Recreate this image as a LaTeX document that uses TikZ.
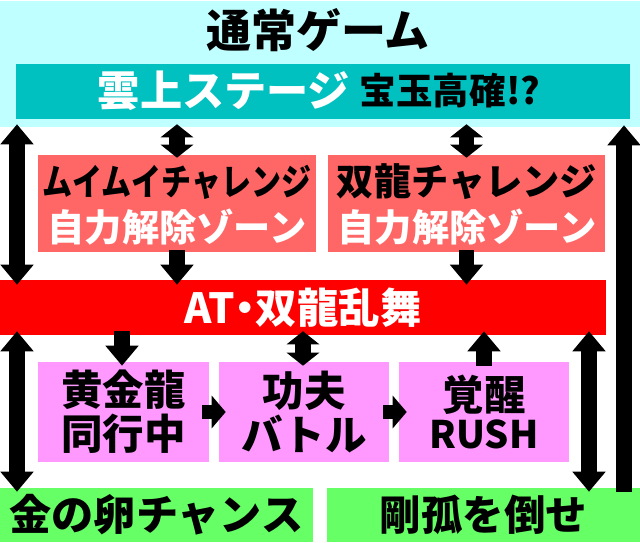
\documentclass[tikz,border=0pt]{standalone}
\usepackage{fontspec}
\usepackage{graphicx}
\usetikzlibrary{arrows.meta, positioning}
\setmainfont{Noto Sans CJK JP}[BoldFont={Noto Sans CJK JP Black}]
\definecolor{skyc}{HTML}{C0FFFF}
\definecolor{tealc}{HTML}{00C0C0}
\definecolor{salmonc}{HTML}{FF6666}
\definecolor{pinkc}{HTML}{FF99FF}
\definecolor{greenc}{HTML}{66FF66}
\newcommand{\jp}[1]{\fontsize{#1}{#1}\selectfont\bfseries}
\tikzset{
  panel/.style={inner sep=0pt, align=center},
  oneway/.style={-{Triangle[width=32*0.025cm,length=20*0.025cm]}, line width=15.5*0.025cm},
  twoway/.style={{Triangle[width=32*0.025cm,length=20*0.025cm]}-{Triangle[width=32*0.025cm,length=20*0.025cm]}, line width=15.5*0.025cm},
  stubway/.style={{Triangle[width=32*0.025cm,length=13*0.025cm]}-{Triangle[width=32*0.025cm,length=13*0.025cm]}, line width=15.5*0.025cm},
  shortway/.style={-{Triangle[width=32*0.025cm,length=14*0.025cm]}, line width=14*0.025cm},
}
\begin{document}
\begin{tikzpicture}[x=0.025cm,y=-0.025cm]
        \useasboundingbox (0,0) rectangle (640,543);

        % boxes
        \node[panel, fill=skyc, minimum width=640*0.025cm, minimum height=126*0.025cm] (normal) at (320,64) {};
        \node[panel] (title) at (318,30) {\jp{32}通常ゲーム};
        \node[panel, fill=tealc, minimum width=614*0.025cm, minimum height=55*0.025cm] (stage) at (323,91.5) {};
        \node[panel, text=white] (stagename) at (224,91) {\jp{30}雲上ステージ};
        \node[panel] (stagenote) at (450,91) {\jp{26}宝玉高確!?};

        \node[panel, fill=salmonc, minimum width=278*0.025cm, minimum height=97*0.025cm] (muimui) at (177,203.5) {};
        \node[panel] (muimuiname) at (177,182) {\scalebox{0.82}[1]{\jp{26}ムイムイチャレンジ}};
        \node[panel, text=white] (muimuizone) at (177,227) {\jp{26.5}自力解除ゾーン};
        \node[panel, fill=salmonc, minimum width=277*0.025cm, minimum height=97*0.025cm] (soryu) at (466.5,203.5) {};
        \node[panel] (soryuname) at (467,182) {\jp{26.5}双龍チャレンジ};
        \node[panel, text=white] (soryuzone) at (467,227) {\jp{26.5}自力解除ゾーン};

        \node[panel, fill=red, minimum width=606*0.025cm, minimum height=55*0.025cm, text=white] (at) at (303,307.5) {\jp{29.5}AT\hspace{-0.25em}・\hspace{-0.25em}双龍乱舞};

        \node[panel, fill=pinkc, minimum width=171*0.025cm, minimum height=100*0.025cm] (ogon) at (123.5,412) {\jp{29.5}黄金龍\\[2pt]\jp{29.5}同行中};
        \node[panel, fill=pinkc, minimum width=170*0.025cm, minimum height=100*0.025cm] (kungfu) at (304,412) {\jp{29.5}功夫\\[2pt]\jp{29.5}バトル};
        \node[panel, fill=pinkc, minimum width=170*0.025cm, minimum height=100*0.025cm] (kakusei) at (484,412) {\jp{29.5}覚醒\\[2pt]\jp{27}RUSH};

        \node[panel, fill=greenc, minimum width=313*0.025cm, minimum height=54*0.025cm] (egg) at (156.5,515) {\jp{30}金の卵チャンス};
        \node[panel, fill=greenc, minimum width=313*0.025cm, minimum height=54*0.025cm] (goko) at (483.5,515) {\jp{29.5}剛孤を倒せ};

        % rails
        \coordinate (railA) at (17,0);
        \coordinate (railB) at (589,0);
        \coordinate (railC) at (624,0);
        \coordinate (railD) at (122,0);
        \coordinate (railE) at (303,0);

        % arrows
        \draw[twoway, shorten <=-3*0.025cm, shorten >=-5*0.025cm] (railA |- normal.south) -- (railA |- at.north);
        \draw[twoway, shorten <=-4*0.025cm, shorten >=-4*0.025cm] (railA |- at.south) -- (railA |- egg.north);
        \draw[stubway, shorten <=-3*0.025cm, shorten >=-3*0.025cm] (muimui.north |- normal.south) -- (muimui.north);
        \draw[stubway, shorten <=-3*0.025cm, shorten >=-3*0.025cm] (soryu.north |- normal.south) -- (soryu.north);
        \draw[oneway, shorten <=-2*0.025cm, shorten >=-5*0.025cm] (muimui.south) -- (muimui.south |- at.north);
        \draw[oneway, shorten <=-2*0.025cm, shorten >=-5*0.025cm] (soryu.south) -- (soryu.south |- at.north);
        \draw[oneway, shorten <=-4*0.025cm, shorten >=-4*0.025cm] (railD |- at.south) -- (railD |- ogon.north);
        \draw[stubway, shorten <=-4*0.025cm, shorten >=-4*0.025cm] (railE |- at.south) -- (railE |- kungfu.north);
        \draw[oneway, shorten <=-4*0.025cm, shorten >=-4*0.025cm] (kakusei.north) -- (kakusei.north |- at.south);
        \draw[twoway, shorten <=-4*0.025cm, shorten >=-4*0.025cm] (railB |- at.south) -- (railB |- goko.north);
        \draw[oneway, shorten <=-4*0.025cm, shorten >=-2*0.025cm] (railC |- goko.north) -- (railC |- normal.south);
        \draw[shortway, shorten <=-7*0.025cm, shorten >=-7*0.025cm] (ogon.east) -- (kungfu.west);
        \draw[shortway, shorten <=-6*0.025cm, shorten >=-8*0.025cm] (kungfu.east) -- (kakusei.west);
    \end{tikzpicture}
\end{document}
